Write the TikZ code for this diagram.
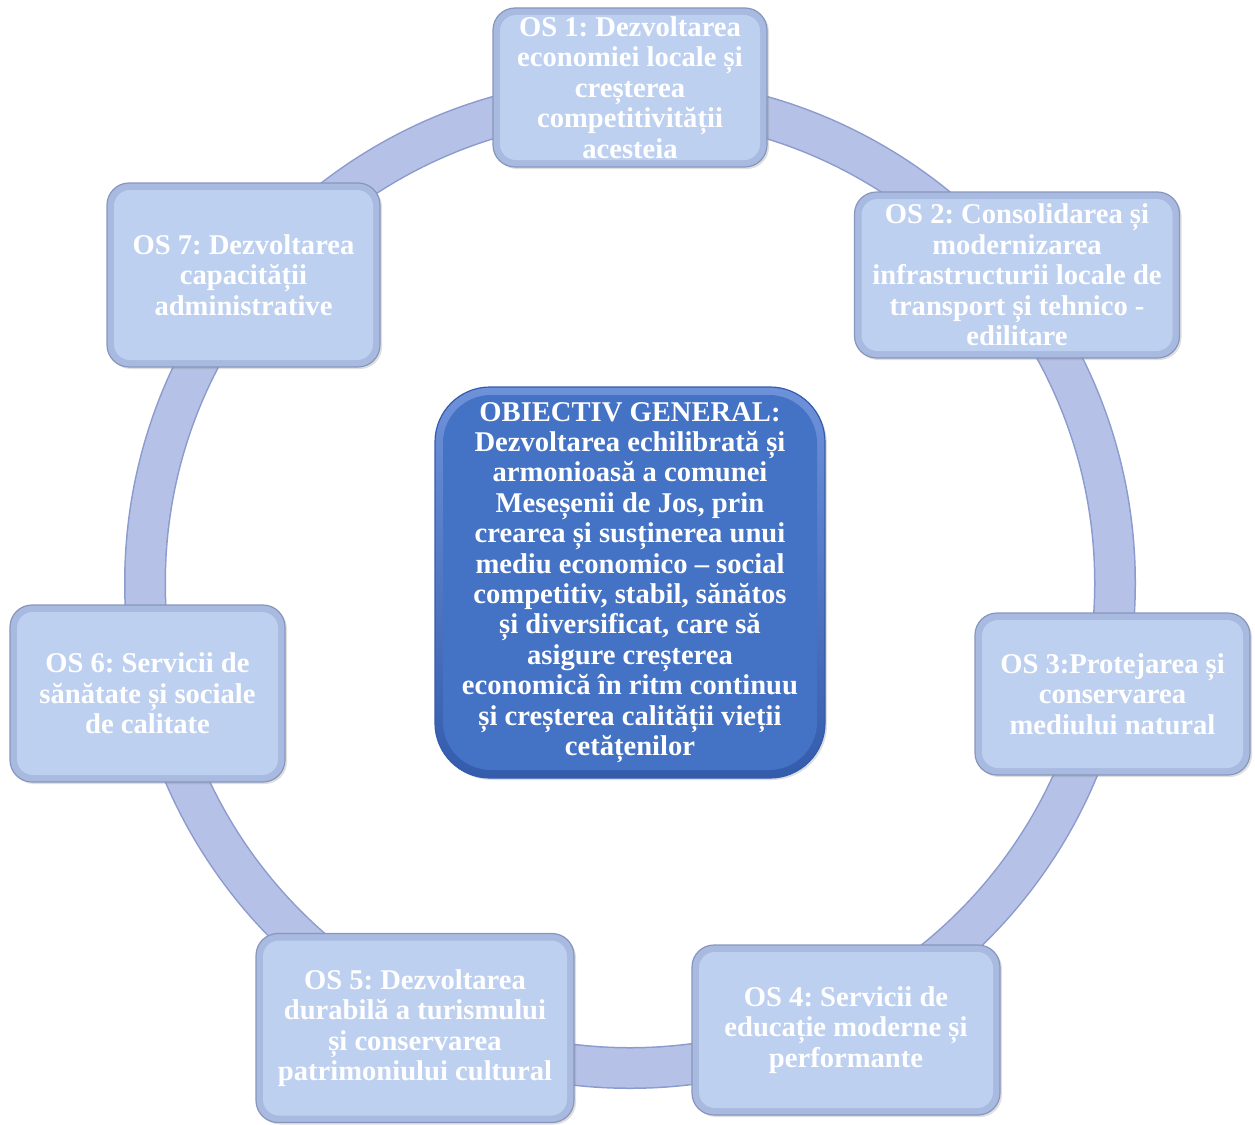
\documentclass[tikz,border=0pt]{standalone}
\usepackage{fontspec}
\setmainfont{Liberation Serif}
\frenchspacing
\usetikzlibrary{shadows}
\definecolor{ringfill}{RGB}{181,193,230}
\definecolor{ringedge}{RGB}{140,155,205}
\definecolor{osrim}{RGB}{168,186,224}
\definecolor{osedge}{RGB}{135,150,190}
\definecolor{osfill}{RGB}{190,208,240}
\definecolor{ogtop}{RGB}{110,146,218}
\definecolor{ogbot}{RGB}{52,92,172}
\definecolor{ogfill}{RGB}{68,114,196}
\begin{document}
\begin{tikzpicture}[x=1pt, y=-1pt,
  every node/.style={font=\fontsize{28.6}{30.4}\selectfont\bfseries, text=white, align=center, inner sep=0pt},
  osbox/.style={draw=osedge, line width=1.2pt, fill=osrim, rounded corners=22pt,
    drop shadow={opacity=0.25, shadow xshift=2pt, shadow yshift=-2pt},
    path picture={\fill[osfill, rounded corners=16pt] ([shift={(7pt,-7pt)}]path picture bounding box.north west) rectangle ([shift={(-7pt,7pt)}]path picture bounding box.south east);}},
  ogbox/.style={draw=ogbot, line width=1.2pt, top color=ogtop, bottom color=ogbot, rounded corners=55pt,
    drop shadow={opacity=0.25, shadow xshift=2pt, shadow yshift=-2pt},
    path picture={\fill[ogfill, rounded corners=48pt] ([shift={(8pt,-8pt)}]path picture bounding box.north west) rectangle ([shift={(-8pt,8pt)}]path picture bounding box.south east);}}]
  \useasboundingbox (0,0) rectangle (1255,1124);
  % ring behind the boxes
  \draw[ringedge, line width=42pt] (630,583) circle[radius=485pt];
  \draw[ringfill, line width=39pt] (630,583) circle[radius=485pt];
  % general objective
  \node[ogbox, minimum width=390pt, minimum height=391pt] (og) at (630,582.5) {OBIECTIV GENERAL:\\Dezvoltarea echilibrată și\\armonioasă a comunei\\Meseșenii de Jos, prin\\crearea și susținerea unui\\mediu economico – social\\competitiv, stabil, sănătos\\și diversificat, care să\\asigure creșterea\\economică în ritm continuu\\și creșterea calității vieții\\cetățenilor};
  % specific objectives
  \node[osbox, minimum width=274pt, minimum height=159pt] (os1) at (630,87.5) {OS 1: Dezvoltarea\\economiei locale și\\creșterea\\competitivității\\acesteia};
  \node[osbox, minimum width=325pt, minimum height=166pt] (os2) at (1017,275) {OS 2: Consolidarea și\\modernizarea\\infrastructurii locale de\\transport și tehnico -\\edilitare};
  \node[osbox, minimum width=275pt, minimum height=162pt] (os3) at (1112.5,694) {OS 3:Protejarea și\\conservarea\\mediului natural};
  \node[osbox, minimum width=308pt, minimum height=170pt] (os4) at (846,1030) {OS 4: Servicii de\\educație moderne și\\performante};
  \node[osbox, minimum width=318pt, minimum height=189pt] (os5) at (415,1028) {OS 5: Dezvoltarea\\durabilă a turismului\\și conservarea\\patrimoniului cultural};
  \node[osbox, minimum width=275pt, minimum height=177pt] (os6) at (147.5,693.5) {OS 6: Servicii de\\sănătate și sociale\\de calitate};
  \node[osbox, minimum width=273pt, minimum height=184pt] (os7) at (243.5,275) {OS 7: Dezvoltarea\\capacității\\administrative};
\end{tikzpicture}
\end{document}
